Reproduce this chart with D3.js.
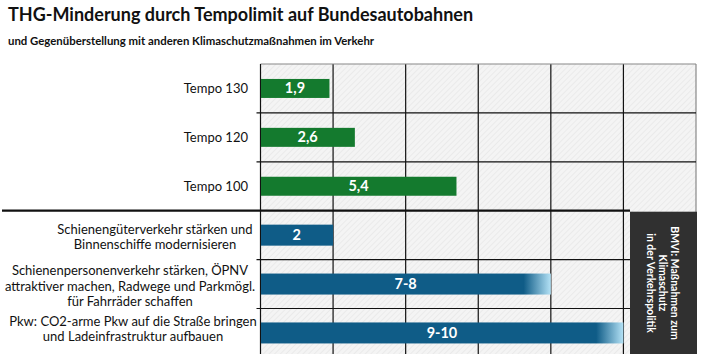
<!DOCTYPE html>
<html lang="de">
<head>
<meta charset="UTF-8" />
<title>THG-Minderung durch Tempolimit</title>
<script src="https://cdn.jsdelivr.net/npm/d3@7"></script>
<style>
  body { margin: 0; background: #fff; }
  svg { display: block; font-family: Lato, "Open Sans", sans-serif; }
</style>
</head>
<body>
<svg id="chart" width="707" height="354"></svg>
<script>
// data
var categories = ["Tempo 130", "Tempo 120", "Tempo 100",
  ["Schienengüterverkehr stärken und", "Binnenschiffe modernisieren"],
  ["Schienenpersonenverkehr stärken, ÖPNV", "attraktiver machen, Radwege und Parkmögl.", "für Fahrräder schaffen"],
  ["Pkw: CO2-arme Pkw auf die Straße bringen", "und Ladeinfrastruktur aufbauen"]];
var lowValues = [1.9, 2.6, 5.4, 2, 7, 9];
var highValues = [1.9, 2.6, 5.4, 2, 8, 10];
var valueLabels = ["1,9", "2,6", "5,4", "2", "7-8", "9-10"];
var groups = ["tempo", "tempo", "tempo", "bmvi", "bmvi", "bmvi"];
var xTicks = [0, 2, 4, 6, 8, 10, 12];
var boxLines = ["BMVI: Maßnahmen zum", "Klimaschutz", "in der Verkehrspolitik"];

var svg = d3.select("#chart");
var plotL = 260.5, plotR = 696, plotT = 64, rowH = 48.9;

var x = d3.scaleLinear().domain([0, 12]).range([plotL, plotR]);
var y = d3.scaleBand().domain(d3.range(categories.length))
  .range([plotT, plotT + rowH * categories.length]).padding(0);

var defs = svg.append("defs");
var pat = defs.append("pattern").attr("id", "hatch")
  .attr("patternUnits", "userSpaceOnUse").attr("width", 4).attr("height", 4)
  .attr("patternTransform", "rotate(45)");
pat.append("rect").attr("width", 4).attr("height", 4).attr("fill", "#f4f4f4");
pat.append("line").attr("x1", 0).attr("y1", 0).attr("x2", 0).attr("y2", 4)
  .attr("stroke", "#e0e0e0").attr("stroke-width", 1);

// titles
svg.append("text").attr("x", 8).attr("y", 21)
  .attr("font-size", 18).attr("font-weight", "bold").attr("fill", "#111")
  .text("THG-Minderung durch Tempolimit auf Bundesautobahnen");
svg.append("text").attr("x", 8).attr("y", 45)
  .attr("font-size", 11.4).attr("font-weight", "bold").attr("fill", "#111")
  .text("und Gegenüberstellung mit anderen Klimaschutzmaßnahmen im Verkehr");

// plot background
svg.append("rect").attr("x", plotL).attr("y", plotT)
  .attr("width", plotR - plotL).attr("height", 354 - plotT)
  .attr("fill", "url(#hatch)");

// vertical grid
svg.selectAll(".vgrid").data(xTicks.slice(1)).enter().append("line")
  .attr("x1", d => x(d)).attr("x2", d => x(d))
  .attr("y1", plotT).attr("y2", 354)
  .attr("stroke", d => d === 12 ? "#888" : "#111").attr("stroke-width", 1.2);

// horizontal grid
svg.selectAll(".hgrid").data(d3.range(1, categories.length)).enter().append("line")
  .attr("x1", d => d === 3 ? 2 : plotL - 4)
  .attr("x2", d => d >= 3 ? 630 : plotR)
  .attr("y1", d => y(d)).attr("y2", d => y(d))
  .attr("stroke", "#111").attr("stroke-width", d => d === 3 ? 2.2 : 1.2);

svg.append("line").attr("x1", plotL).attr("x2", plotR).attr("y1", plotT).attr("y2", plotT)
  .attr("stroke", "#888").attr("stroke-width", 1.2);
svg.append("line").attr("x1", plotL).attr("x2", plotL).attr("y1", plotT).attr("y2", 354)
  .attr("stroke", "#111").attr("stroke-width", 1.2);

// gradients for range bars
groups.forEach(function(g, i) {
  var gr = defs.append("linearGradient").attr("id", "grad" + i)
    .attr("gradientUnits", "userSpaceOnUse")
    .attr("x1", x(lowValues[i])).attr("x2", x(highValues[i]))
    .attr("y1", 0).attr("y2", 0);
  gr.append("stop").attr("offset", 0).attr("stop-color", "#0f5c87");
  gr.append("stop").attr("offset", 0.25).attr("stop-color", "#0f5c87");
  gr.append("stop").attr("offset", 1).attr("stop-color", "#b4e2f6");
});

// bars
var bars = svg.selectAll(".bar").data(d3.range(categories.length)).enter();
bars.append("rect")
  .attr("x", x(0) + 0.5)
  .attr("y", i => y(i) + y.bandwidth() / 2 - (groups[i] === "tempo" ? 9.5 : 10.5))
  .attr("width", i => x(highValues[i]) - x(0) - 0.5)
  .attr("height", i => groups[i] === "tempo" ? 19 : 21)
  .attr("fill", i => groups[i] === "tempo" ? "#147a2e" :
    (lowValues[i] === highValues[i] ? "#0f5c87" : "url(#grad" + i + ")"));

bars.append("text")
  .attr("x", i => (x(0) + x(highValues[i])) / 2)
  .attr("y", i => y(i) + y.bandwidth() / 2 - 0.5)
  .attr("dy", "0.36em").attr("text-anchor", "middle")
  .attr("font-size", 14.5).attr("font-weight", "bold").attr("fill", "#fff")
  .text(i => valueLabels[i]);

// category labels
var labelCenters = [null, null, null, 155, 130, 133];
var labelMid = [null, null, null, 237, 286, 329];
categories.forEach(function(c, i) {
  if (typeof c === "string") {
    svg.append("text").attr("x", 248).attr("y", y(i) + y.bandwidth() / 2)
      .attr("dy", "0.36em").attr("text-anchor", "end")
      .attr("font-size", 13).attr("fill", "#111").text(c);
  } else {
    var lh = 15.2;
    var y0 = labelMid[i] - (c.length - 1) * lh / 2;
    c.forEach(function(line, k) {
      svg.append("text").attr("x", labelCenters[i]).attr("y", y0 + k * lh)
        .attr("dy", "0.36em").attr("text-anchor", "middle")
        .attr("font-size", 13).attr("fill", "#111").text(line);
    });
  }
});

// BMVI box
svg.append("rect").attr("x", 630).attr("y", y(3) + 1)
  .attr("width", 67).attr("height", 354 - y(3))
  .attr("fill", "#303030");
var bx = 663, by = 283;
var bt = svg.append("g").attr("transform", "translate(" + bx + "," + by + ") rotate(90)");
boxLines.forEach(function(line, k) {
  bt.append("text").attr("x", 0).attr("y", (k - 1) * 12)
    .attr("dy", "0.36em").attr("text-anchor", "middle")
    .attr("font-size", 10.5).attr("font-weight", "bold").attr("fill", "#fff")
    .text(line);
});
</script>
</body>
</html>
